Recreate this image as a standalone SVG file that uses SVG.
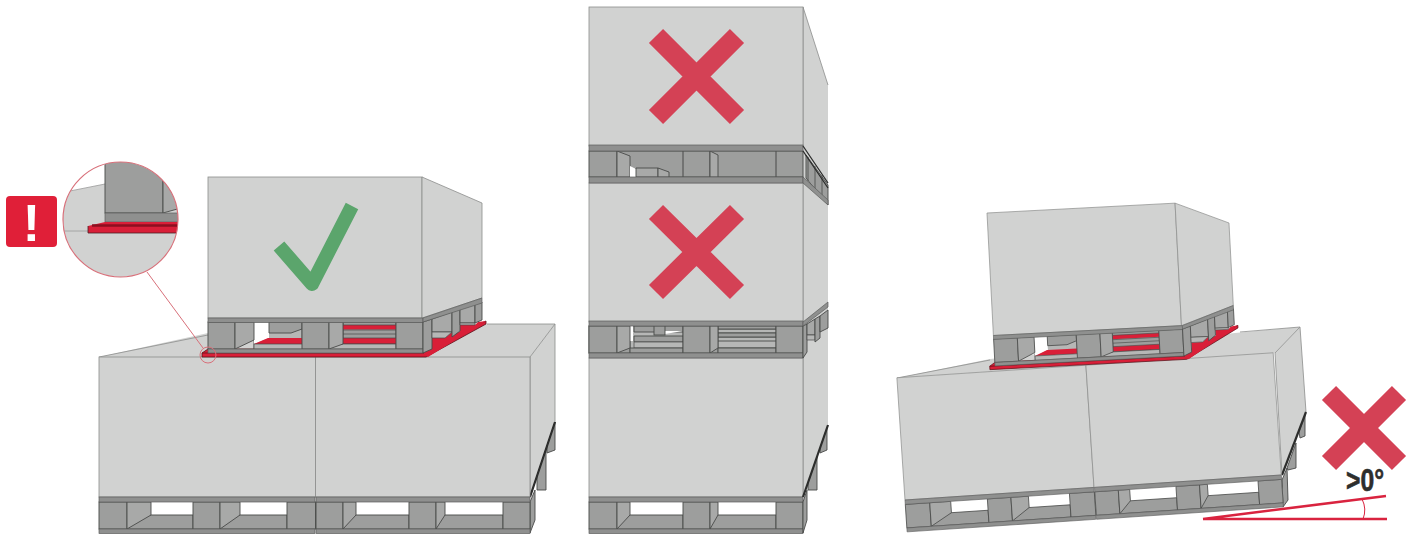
<svg xmlns="http://www.w3.org/2000/svg" xmlns:xlink="http://www.w3.org/1999/xlink" width="1415" height="535" viewBox="0 0 1415 535">
<style>
.b{fill:#d1d2d1;stroke:#8c8d8c;stroke-width:.8}
.s{fill:#d1d2d1;stroke:none}
.p{fill:#9d9e9d;stroke:#484948;stroke-width:.9}
.l{fill:#a8a9a8;stroke:#484948;stroke-width:.9}
.t{fill:#8f908f;stroke:#5c5d5c;stroke-width:.7}
.m{fill:#b6b7b6;stroke:#484948;stroke-width:.7}
.w{fill:#fff}
.r{fill:#d91f38}
.rd{fill:#d91f38;stroke:#5a1018;stroke-width:.8}
.x{fill:none;stroke:#d44155;stroke-width:20}
.a{fill:none;stroke:#d9233f}
.z{fill:none;stroke:#d8707a;stroke-width:1}
.e{fill:none;stroke:#8c8d8c;stroke-width:.8}
.d{fill:none;stroke:#2d2e2d;stroke-width:2.200}
</style>
<defs>
<clipPath id="lens"><circle cx="120.500" cy="219.500" r="57.500"/></clipPath>
<g id="lower">
<rect class="b" x="99" y="357" width="216.500" height="140"/>
<rect class="b" x="315.500" y="357" width="214.500" height="140"/>
<rect class="w" x="99" y="500" width="431" height="30"/>
<rect class="p" x="127" y="515" width="66" height="14"/>
<rect class="p" x="220" y="515" width="67" height="14"/>
<rect class="p" x="343" y="515" width="66" height="14"/>
<rect class="p" x="436" y="515" width="67" height="14"/>
<rect class="p" x="99" y="502" width="28" height="27"/>
<rect class="p" x="193" y="502" width="27" height="27"/>
<rect class="p" x="287" y="502" width="28.500" height="27"/>
<rect class="p" x="316" y="502" width="27" height="27"/>
<rect class="p" x="409" y="502" width="27" height="27"/>
<rect class="p" x="503" y="502" width="27" height="27"/>
<path class="l" d="M127 502H151V515L127 529Z"/>
<path class="l" d="M220 502H240V515L220 529Z"/>
<path class="l" d="M343 502H356V515L343 529Z"/>
<path class="l" d="M436 502H445V515L436 529Z"/>
<rect class="t" x="99" y="497" width="216" height="5"/>
<rect class="t" x="316" y="497" width="214" height="5"/>
<rect class="t" x="99" y="529" width="216" height="4.500"/>
<rect class="t" x="316" y="529" width="214" height="4.500"/>
</g>
<g id="upper">
<path class="rd" d="M202 353L208 349H424L486 321V324L426 357H202Z"/>
<path d="M202 353H424" stroke="#7c101c" stroke-width="1.200"/>
<rect class="b" x="208" y="177" width="214" height="141"/>
<path class="b" d="M422 177L482 203V298L422 318Z"/>
<rect class="m" x="254" y="322" width="48" height="27"/>
<path class="w" d="M254 322H269V338L254 344Z"/>
<path class="p" d="M269 322H302V329L291 333H269Z"/>
<path class="r" d="M254 344L268 338H302V344Z"/>
<rect class="p" x="343" y="322" width="53" height="27"/>
<rect class="r" x="343" y="325" width="53" height="4.500"/>
<rect class="r" x="343" y="338" width="53" height="6"/>
<path d="M343 325H396M343 330H396M343 334H396M343 338H396M343 344H396" stroke="#484948" stroke-width=".7"/>
<rect class="m" x="254" y="344" width="142" height="5"/>
<rect class="p" x="208" y="322" width="27" height="27"/>
<rect class="p" x="302" y="322" width="27" height="27"/>
<rect class="p" x="396" y="322" width="27" height="27"/>
<path class="l" d="M235 322H254V340L235 349Z"/>
<path class="l" d="M329 322H343V344L329 349Z"/>
<rect class="t" x="208" y="349" width="215" height="4"/>
<rect class="t" x="208" y="318" width="215" height="4.500"/>
<path class="r" d="M425 355L432 350V338H445L452 332H460V325H475L478 322L486 321L428 357Z"/>
<path class="p" d="M423 322L432 319V349L423 353Z"/>
<path class="l" d="M432 319L452 312V332H432Z"/>
<path class="m" d="M432 332H452L445 338H432Z"/>
<path class="p" d="M452 312L460 309V331L452 337Z"/>
<path class="l" d="M460 309L475 304V323H460Z"/>
<path class="m" d="M460 323H475V325H460Z"/>
<path class="p" d="M475 304L482 302V320L475 323Z"/>
<path class="t" d="M423 318L482 298V303L423 322Z"/>
</g>
</defs>

<g id="left-scene">
<path class="s" d="M99 357L208 333L482 324L555 324L530 357Z"/>
<path class="e" d="M99 357L208 335M487 324H555"/>
<path class="b" d="M530 357L555 324V422L530 497Z"/>
<path class="p" d="M537 476L546 449V490H537Z"/>
<path class="p" d="M547 446L555 422V450L547 453Z"/>
<path class="d" d="M530 497L555 422"/>
<path class="p" d="M530 502L535 490V520L530 533Z"/>
<use href="#lower" xlink:href="#lower"/>
<use href="#upper" xlink:href="#upper"/>
<path id="check" d="M279 246L312 284L352 206" fill="none" stroke="#5ba56c" stroke-width="14" stroke-linejoin="round"/>
</g>

<g id="inset">
<path d="M147 272L203 348" class="z"/>
<circle cx="208" cy="355" r="8" class="z"/>
<g clip-path="url(#lens)">
<rect class="w" x="60" y="160" width="120" height="120"/>
<path class="s" d="M60 193L105 184H180V280H60Z"/>
<path d="M60 193L105 184M60 231H88" fill="none" stroke="#9a9b9a" stroke-width=".8"/>
<rect class="p" x="105" y="160" width="58" height="53"/>
<path class="l" d="M163 160H181V208L163 213Z"/>
<rect class="t" x="105" y="213" width="75" height="9"/>
<path class="r" d="M88 226L105 222H180V233H88Z"/>
<path d="M92 225.500H180" stroke="#8b1020" stroke-width="2.500"/>
<path d="M88 226V233H180" fill="none" stroke="#4a2025" stroke-width=".8"/>
</g>
<circle cx="120.500" cy="219.500" r="57.500" fill="none" stroke="#d8707a" stroke-width="1.200"/>
</g>

<g id="alert">
<rect x="6" y="196" width="51" height="51" rx="4" fill="#e01f38"/>
<text x="31.500" y="241" font-family="'Liberation Sans',Arial,sans-serif" font-size="52" font-weight="700" fill="#fff" text-anchor="middle">!</text>
</g>

<g id="middle-scene">
<path class="s" d="M803 7L828 85V425L803 497Z"/>
<path class="e" d="M803 7L828 85M803 7V146M803 183V322M803 358V497"/>
<rect class="b" x="589" y="7" width="214" height="139"/>
<rect class="b" x="589" y="183" width="214" height="139"/>
<rect class="b" x="589" y="358" width="214" height="139"/>

<rect class="p" x="589" y="151" width="214" height="26"/>
<path d="M617 151V177M683 151V177M710 151V177M776 151V177" stroke="#484948"/>
<path class="l" d="M617 151L630 156V177H617Z"/>
<path class="w" d="M630 166L636 169V177H630Z"/>
<path class="l" d="M636 168H658V177H636Z"/>
<path class="l" d="M658 168L669 172V177H658Z"/>
<path class="l" d="M710 151L718 155V177H710Z"/>
<rect class="t" x="589" y="145" width="214" height="6"/>
<rect class="t" x="589" y="177" width="214" height="6"/>
<path class="p" d="M806 155L828 185V205L806 178Z"/>
<path d="M808 157V181M815 166V190M822 175V198" stroke="#484948" stroke-width=".8"/>
<path d="M803 146L828 183M803 151L828 188" stroke="#2d2e2d" stroke-width="1.300"/>
<path class="t" d="M803 177L828 200V205L803 183Z"/>

<rect class="p" x="589" y="326" width="214" height="27"/>
<rect class="m" x="630" y="326" width="53" height="27"/>
<path class="p" d="M634 326H683V332H634Z"/>
<path class="p" d="M634 336H683V342H634Z"/>
<path class="m" d="M634 342H683V348H634Z"/>
<path class="p" d="M630 348H683V353H630Z"/>
<path class="w" d="M630 326H633V341H630ZM665 331H683L665 334Z"/>
<rect class="p" x="654" y="326" width="11" height="9"/>
<rect class="m" x="718" y="326" width="58" height="27"/>
<path d="M718 329H776M718 333H776M718 337H776M718 341H776M718 348H776" stroke="#484948" stroke-width=".9"/>
<path class="p" d="M718 333H776V337H718ZM718 348H776V353H718ZM718 326H776V329H718Z"/>
<rect class="p" x="589" y="326" width="28" height="27"/>
<rect class="p" x="683" y="326" width="27" height="27"/>
<rect class="p" x="776" y="326" width="27" height="27"/>
<path class="l" d="M617 326H630V348L617 353Z"/>
<path class="l" d="M710 326H718V348L710 353Z"/>
<rect class="t" x="589" y="321" width="214" height="5"/>
<rect class="t" x="589" y="353" width="214" height="5"/>
<path class="p" d="M803 326L807 324V352L803 358Z"/>
<path class="l" d="M807 324L815 319V335H807Z"/>
<path class="m" d="M807 335H815V340H807Z"/>
<path class="p" d="M815 319L820 316V338L815 342Z"/>
<path class="p" d="M820 316L828 310V328L820 332Z"/>
<path class="t" d="M803 322L828 302V307L803 326Z"/>

<rect class="w" x="589" y="500" width="214" height="30"/>
<rect class="p" x="617" y="515" width="66" height="14"/>
<rect class="p" x="710" y="515" width="66" height="14"/>
<rect class="p" x="589" y="502" width="28" height="27"/>
<rect class="p" x="683" y="502" width="27" height="27"/>
<rect class="p" x="776" y="502" width="27" height="27"/>
<path class="l" d="M617 502H630V515L617 529Z"/>
<path class="l" d="M710 502H718V515L710 529Z"/>
<rect class="t" x="589" y="497" width="214" height="5"/>
<rect class="t" x="589" y="529" width="214" height="4.500"/>
<path class="p" d="M808 483L817 457V490H808Z"/>
<path class="p" d="M820 448L827 428V450L820 453Z"/>
<path class="d" d="M803 497L828 425"/>
<path class="p" d="M803 502L807 490V520L803 533Z"/>

<path class="x" d="M656 36L737 117M737 36L656 117"/>
<path class="x" d="M656 212L737 292M737 212L656 292"/>
</g>

<g id="right-scene">
<path class="s" d="M897 378L990 359L1235 333L1300 327L1275 353Z"/>
<path class="e" d="M897 378L990 360M1240 332L1300 327"/>
<path class="b" d="M1275 353L1300 327L1306 412L1282 475Z"/>
<path class="p" d="M1287 468L1296 443V468L1288 470Z"/>
<path class="p" d="M1299 432L1305 415V436L1300 438Z"/>
<path class="d" d="M1282 475L1306 412"/>
<path class="p" d="M1282 480L1287 468L1288 500L1283 507Z"/>
<g transform="translate(905 500) rotate(-3.800) scale(.875) translate(-99 -497)"><use href="#lower" xlink:href="#lower"/></g>
<g transform="translate(987 213) rotate(-3) scale(.88 .87) translate(-208 -177)"><use href="#upper" xlink:href="#upper"/></g>
<path class="x" d="M1329 393L1399 463"/>
<path class="x" d="M1399 393L1329 463"/>
<path class="a" stroke-width="2.500" d="M1203 519H1387M1203 519L1386 496"/>
<path class="a" stroke-width="1" d="M1362 499Q1367 509 1363 519"/>
<text x="1346" y="491" font-family="'Liberation Sans',Arial,sans-serif" font-size="32" font-weight="700" fill="#2d2e2d" stroke="#2d2e2d" stroke-width=".6" textLength="38" lengthAdjust="spacingAndGlyphs">&gt;0°</text>
</g>
</svg>
